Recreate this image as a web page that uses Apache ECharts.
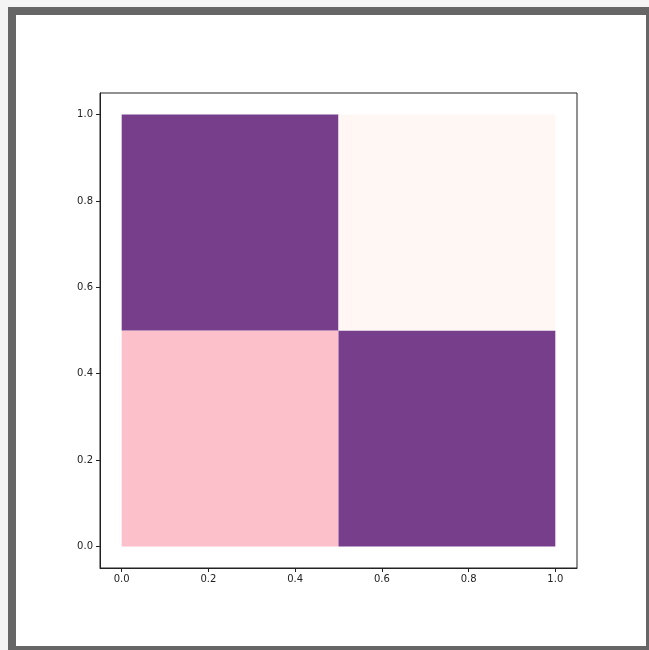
<!DOCTYPE html>
<html><head><meta charset="utf-8">
<script src="https://cdn.jsdelivr.net/npm/echarts@6/dist/echarts.min.js"></script>
<style>
html,body{margin:0;padding:0;width:649px;height:650px;overflow:hidden;background:#f4f4f4;}
#frame{position:absolute;left:8px;top:7px;width:630px;height:631px;border:8px solid #666;background:#fff;}
#chart{position:absolute;left:0;top:0;width:649px;height:650px;}
</style></head>
<body>
<div id="frame"></div>
<div id="chart"></div>
<script>
// cell edges along x and y
var xEdges = [0, 0.5, 1];
var yEdges = [0, 0.5, 1];
// cell colour class per [row (y index), col (x index)]
var cellClass = [
  ['pink', 'purple'],   // bottom row (y 0..0.5)
  ['purple', 'pale']    // top row (y 0.5..1)
];
var classColors = { purple: '#773f8b', pale: '#fef7f3', pink: '#fcc0cb' };
var tickValues = [0, 0.2, 0.4, 0.6, 0.8, 1.0];

var data = [];
for (var r = 0; r < cellClass.length; r++) {
  for (var c = 0; c < cellClass[r].length; c++) {
    data.push({ value: [xEdges[c], xEdges[c+1], yEdges[r], yEdges[r+1]], itemStyle: { color: classColors[cellClass[r][c]] } });
  }
}

var chart = echarts.init(document.getElementById('chart'), null, { renderer: 'canvas' });
var axisCommon = {
  type: 'value', min: -0.05, max: 1.05,
  splitLine: { show: false },
  axisLine: { show: true, onZero: false, lineStyle: { color: '#222', width: 1 } },
  axisTick: { show: true, length: 4, customValues: tickValues, lineStyle: { color: '#222' } },
  axisLabel: { show: true, customValues: tickValues, color: '#222', fontSize: 10, fontFamily: 'DejaVu Sans',
    formatter: function (v) { return Number(v).toFixed(1); } }
};
chart.setOption({
  backgroundColor: 'transparent',
  animation: false,
  grid: { left: 100, top: 93, width: 477, height: 475, show: true, borderColor: '#222', borderWidth: 1, backgroundColor: 'transparent' },
  xAxis: Object.assign({}, axisCommon, { axisLabel: Object.assign({}, axisCommon.axisLabel, { margin: 6 }) }),
  yAxis: Object.assign({}, axisCommon, { axisLabel: Object.assign({}, axisCommon.axisLabel, { margin: 7 }) }),
  series: [{
    type: 'custom',
    data: data,
    encode: { x: [0, 1], y: [2, 3] },
    renderItem: function (params, api) {
      var p0 = api.coord([api.value(0), api.value(2)]);
      var p1 = api.coord([api.value(1), api.value(3)]);
      return {
        type: 'rect',
        shape: { x: p0[0], y: p1[1], width: p1[0] - p0[0], height: p0[1] - p1[1] },
        style: { fill: api.visual('color') }
      };
    }
  }]
});
</script>
</body></html>
